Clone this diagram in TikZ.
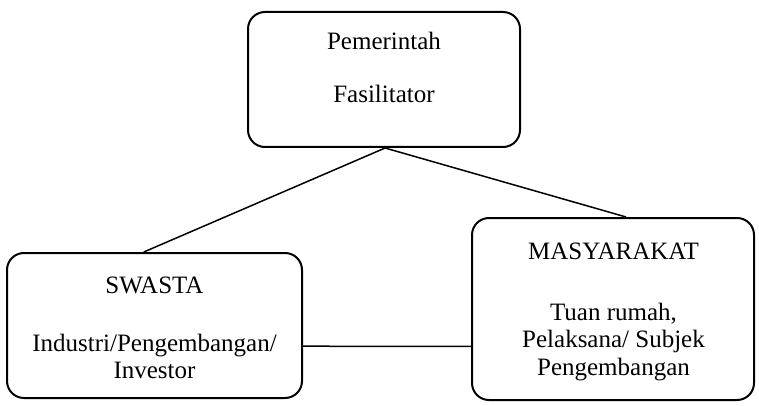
\documentclass[tikz,border=0pt]{standalone}
\usepackage{fontspec}
\setmainfont{Liberation Serif}
\usetikzlibrary{calc}
\begin{document}
\begin{tikzpicture}[x=0.5pt,y=-0.5pt,
  box/.style={draw,line width=1pt,rounded corners=8.5pt,inner sep=0pt},
  txt/.style={anchor=base,inner sep=0pt,font=\fontsize{12.5}{13.5}\selectfont},
  link/.style={draw,line width=0.75pt}]
\fill[white] (0,0) rectangle (759,406);
\useasboundingbox (0,0) rectangle (759,406);
\node[box,minimum width=136pt,minimum height=67.5pt] (top) at (384,79.5) {};
\node[box,minimum width=147.5pt,minimum height=72.5pt] (left) at (154.5,325.5) {};
\node[box,minimum width=141pt,minimum height=91pt] (right) at (613,309) {};
\node[txt] (t1) at (384,50) {Pemerintah};
\node[txt] (t2) at (384,103) {Fasilitator};
\node[txt] (l1) at (154.5,293) {SWASTA};
\node[txt] (l2) at (154.5,351.5) {Industri/Pengembangan/};
\node[txt] (l3) at (154.5,378) {Investor};
\node[txt] (r1) at (613.5,259) {MASYARAKAT};
\node[txt] (r2) at (613.5,320) {Tuan rumah,};
\node[txt] (r3) at (613.5,347) {Pelaksana/ Subjek};
\node[txt] (r4) at (613.5,375) {Pengembangan};
\draw[link] ($(left.north west)!0.464!(left.north east)$) -- ($(top.south west)!0.504!(top.south east)$) -- ($(right.north west)!0.546!(right.north east)$);
\draw[link] ($(left.north east)!0.641!(left.south east)$) -- ($(right.north west)!0.703!(right.south west)$);
\end{tikzpicture}
\end{document}
